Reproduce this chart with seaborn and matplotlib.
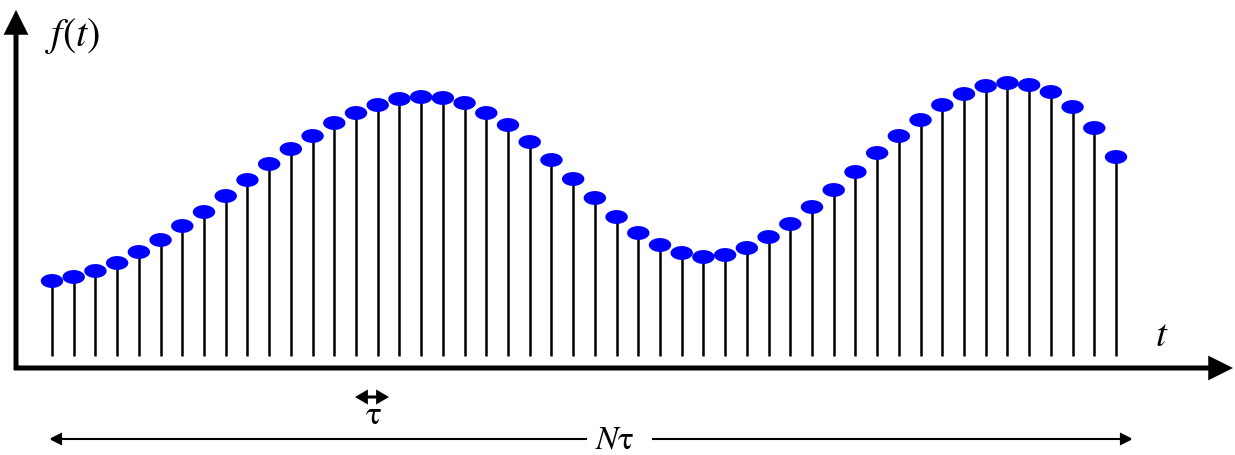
import numpy as np
import matplotlib
matplotlib.use("Agg")
import matplotlib.pyplot as plt
from matplotlib.path import Path
import seaborn as sns

# ---- data (sample heights, arbitrary units) ----
sample_index = list(range(50))
sample_values = [75, 79, 85, 93, 104, 116, 130, 144, 160, 176,
                 192, 207, 220, 233, 243, 251, 257, 259, 258, 253,
                 243, 231, 214, 196, 177, 158, 139, 123, 111, 103,
                 99, 101, 108, 119, 132, 149, 166, 184, 203, 220,
                 236, 251, 262, 270, 273, 271, 264, 249, 228, 199]
y_label = r"$f(t)$"
x_label = r"$t$"
tau_label = r"$\mathrm{\tau}$"
ntau_label = r"$N\mathrm{\tau}$"

sns.set_theme(style="white")
plt.rcParams["mathtext.fontset"] = "stix"
plt.rcParams["font.family"] = ["DejaVu Sans"]

W, H = 1235, 455
fig = plt.figure(figsize=(W / 100, H / 100), dpi=100)
ax = fig.add_axes([0, 0, 1, 1])
ax.set_axis_off()

# pixel layout helpers
x0_px, sp_px, base_px = 52, (1116 - 52) / 49, 356
ax.set_xlim(-x0_px / sp_px, (W - x0_px) / sp_px)
ax.set_ylim(-(H - base_px), base_px)

def fp(x, y):
    """top-left pixel -> figure fraction"""
    return (x / W, 1 - y / H)

def arrow(p_to, p_from, style, lw, scale):
    ax.annotate("", xy=fp(*p_to), xytext=fp(*p_from), xycoords="figure fraction",
                textcoords="figure fraction",
                arrowprops=dict(arrowstyle=style, lw=lw, color="black",
                                shrinkA=0, shrinkB=0, mutation_scale=scale,
                                capstyle="butt", joinstyle="miter"))

# stems
ax.vlines(sample_index, 0, sample_values, color="black", lw=1.8, zorder=2)

# elliptical markers
t = np.linspace(0, 2 * np.pi, 60)
ell = Path(np.column_stack([np.cos(t), 0.62 * np.sin(t)]), closed=True)
sns.scatterplot(x=sample_index, y=sample_values, marker=ell, s=260,
                color="#0000ff", edgecolor="none", linewidth=0, ax=ax, zorder=3)

# axes arrows
ax_style = "-|>,head_length=1.0,head_width=0.5"
arrow((16, 10), (16, 370), ax_style, 3.6, 12)
arrow((1233, 368), (14, 368), ax_style, 3.6, 12)

fig.text(*fp(45, 36), y_label, fontsize=29, ha="left", va="center", color="black")
fig.text(*fp(1162, 335), x_label, fontsize=28, ha="center", va="center", color="black")

# tau marker
arrow((389, 397), (355, 397), "<|-|>,head_length=0.6,head_width=0.35", 2.2, 10)
fig.text(*fp(373, 415), tau_label, fontsize=24, ha="center", va="center", color="black")

# N tau span (line broken around the label)
small = "-|>,head_length=0.7,head_width=0.35"
arrow((49, 439), (587, 439), small, 1.5, 10)
arrow((1133, 439), (652, 439), small, 1.5, 10)
fig.text(*fp(615, 439), ntau_label, fontsize=24, ha="center", va="center", color="black")

fig.savefig("out.png", dpi=100)
